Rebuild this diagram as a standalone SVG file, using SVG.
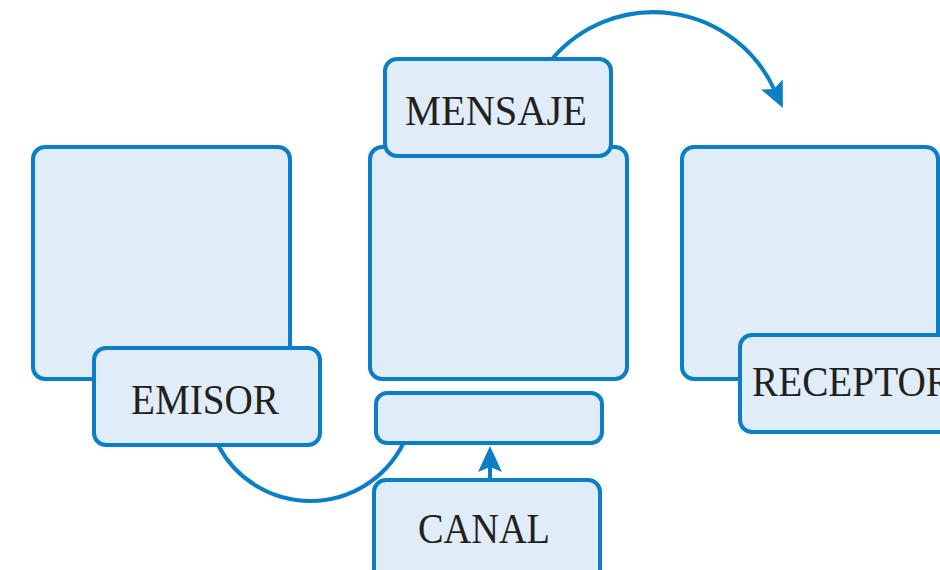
<svg xmlns="http://www.w3.org/2000/svg" width="940" height="570" viewBox="0 0 940 570">
<style>
.box{fill:#e0ecf8;stroke:#0a7fc7;stroke-width:4}
.con{fill:none;stroke:#0a7fc7;stroke-width:4}
.lbl{font-family:"Liberation Serif",serif;font-size:42px;fill:#231f20}
</style>
<defs>
<marker id="ah" markerUnits="userSpaceOnUse" markerWidth="26" markerHeight="24" viewBox="0 0 26 24" refX="5" refY="12" orient="auto">
<path d="M0,0 L26,12 L0,24 L5,12 z" fill="#0a7fc7"/>
</marker>
</defs>
<rect width="940" height="570" fill="#fff"/>
<g id="connectors">
<path class="con" d="M553,58 A133 133 0 0 1 774,89" marker-end="url(#ah)"/>
<path class="con" d="M218,445 A104 104 0 0 0 403,444"/>
<line class="con" x1="490" y1="482" x2="490" y2="467" marker-end="url(#ah)"/>
</g>
<g id="emisor-box"><rect class="box" x="33" y="147" width="257" height="232" rx="12"/></g>
<g id="mensaje-box"><rect class="box" x="370" y="147" width="257" height="232" rx="12"/></g>
<g id="receptor-box"><rect class="box" x="682" y="147" width="256" height="232" rx="12"/></g>
<g id="canal-box"><rect class="box" x="376" y="393" width="226" height="50" rx="11"/></g>
<g id="emisor"><rect class="box" x="94" y="348" width="226" height="97" rx="12"/><text class="lbl" x="131" y="414" textLength="148" lengthAdjust="spacingAndGlyphs">EMISOR</text></g>
<g id="mensaje"><rect class="box" x="385" y="59" width="226" height="97" rx="12"/><text class="lbl" x="405" y="125" textLength="182" lengthAdjust="spacingAndGlyphs">MENSAJE</text></g>
<g id="receptor"><rect class="box" x="740" y="335" width="240" height="97" rx="12"/><text class="lbl" x="752" y="396" textLength="200" lengthAdjust="spacingAndGlyphs">RECEPTOR</text></g>
<g id="canal"><rect class="box" x="374" y="480" width="226" height="110" rx="12"/><text class="lbl" x="418" y="543" textLength="132" lengthAdjust="spacingAndGlyphs">CANAL</text></g>
</svg>
